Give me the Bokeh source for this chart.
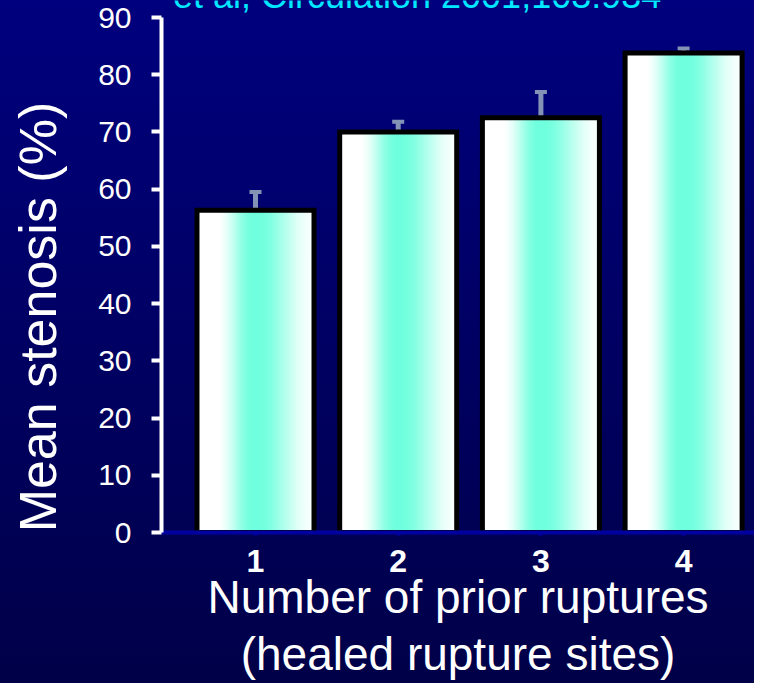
import numpy as np
from bokeh.plotting import figure
from bokeh.models import Range1d, FixedTicker, ColumnDataSource, Whisker, TeeHead, Label
from bokeh.embed import file_html
from bokeh.resources import INLINE

# ---- data ----
categories = ["1", "2", "3", "4"]
mean_stenosis = [56.3, 70.0, 72.5, 83.8]
error_up = [3.2, 1.8, 4.5, 0.8]
y_ticks = [0, 10, 20, 30, 40, 50, 60, 70, 80, 90]
citation = "Burke AP et al, Circulation 2001;103:934"
x_title = "Number of prior ruptures\n(healed rupture sites)"
y_title = "Mean stenosis (%)"

x_pos = list(range(1, len(categories) + 1))
upper = [m + e for m, e in zip(mean_stenosis, error_up)]

# ---- layout / style constants ----
W, H = 754, 683
LEFT, BOTTOM = 161, 151
FRAME_H = H - BOTTOM            # frame spans canvas 0 .. 532
TOP_PAD = 17                    # px between canvas top and the "90" tick
PX_PER_UNIT = (FRAME_H - TOP_PAD) / 90.0
Y_TOP = 90 + TOP_PAD / PX_PER_UNIT
PX_PER_CAT = 142.7
X_START = 1 - 94 / PX_PER_CAT
X_END = X_START + (W - LEFT) / PX_PER_CAT
BAR_W = 0.82
FONT = "Liberation Sans"

p = figure(width=W, height=H, output_backend="svg", toolbar_location=None,
           x_range=Range1d(X_START, X_END), y_range=Range1d(0, Y_TOP),
           min_border_left=LEFT, min_border_right=0, min_border_top=0,
           min_border_bottom=BOTTOM,
           styles={"background": "linear-gradient(to bottom, #00007e, #000048)"})
p.background_fill_alpha = 0
p.border_fill_alpha = 0
p.outline_line_color = None
p.grid.visible = False

# horizontal white -> aquamarine -> white gradient used as bar fill (style only)
N = 240
t = np.linspace(0, 1, N)
def smooth(u):
    u = np.clip(u, 0, 1)
    return u * u * (3 - 2 * u)
s = np.where(t < 0.5, smooth((t - 0.17) / (0.48 - 0.17)),
             1 - 0.94 * smooth((t - 0.52) / (0.98 - 0.52)))
aqua = np.array([112, 255, 222])
white = np.array([255, 255, 255])
rgb = (white[None, :] * (1 - s[:, None]) + aqua[None, :] * s[:, None]).astype(np.uint8)
img = np.empty((1, N), dtype=np.uint32)
view = img.view(dtype=np.uint8).reshape((1, N, 4))
view[0, :, 0:3] = rgb
view[0, :, 3] = 255

img_src = ColumnDataSource(dict(
    image=[img] * len(x_pos),
    x=[xp - BAR_W / 2 for xp in x_pos],
    y=[0] * len(x_pos),
    dw=[BAR_W] * len(x_pos),
    dh=mean_stenosis,
))
p.image_rgba(image="image", x="x", y="y", dw="dw", dh="dh", source=img_src)

p.vbar(x=x_pos, top=mean_stenosis, width=BAR_W, fill_alpha=0,
       line_color="black", line_width=5, line_join="miter")

err_src = ColumnDataSource(dict(base=x_pos, lower=mean_stenosis, upper=upper))
p.add_layout(Whisker(base="base", lower="lower", upper="upper", source=err_src,
                     line_color="#8393b6", line_width=5,
                     upper_head=TeeHead(size=12, line_color="#8393b6", line_width=4),
                     lower_head=None))

# ---- axes ----
xa = p.xaxis[0]
xa.ticker = FixedTicker(ticks=x_pos)
xa.major_label_overrides = {xp: c for xp, c in zip(x_pos, categories)}
xa.axis_line_color = "#0000a0"
xa.axis_line_width = 4
xa.major_tick_line_color = "#0000a0"
xa.major_tick_line_width = 4
xa.major_tick_out = 3
xa.major_tick_in = 0
xa.minor_tick_line_color = None
xa.major_label_text_color = "white"
xa.major_label_text_font = FONT
xa.major_label_text_font_style = "bold"
xa.major_label_text_font_size = "32px"
xa.major_label_standoff = 14
xa.axis_label = x_title
xa.axis_label_text_color = "white"
xa.axis_label_text_font = FONT
xa.axis_label_text_font_style = "normal"
xa.axis_label_text_font_size = "46px"
xa.axis_label_text_line_height = 1.1
xa.axis_label_standoff = -4

ya = p.yaxis[0]
ya.ticker = FixedTicker(ticks=y_ticks)
ya.bounds = (0, 90)
ya.axis_line_color = "white"
ya.axis_line_width = 4
ya.major_tick_line_color = "white"
ya.major_tick_line_width = 4
ya.major_tick_out = 10
ya.major_tick_in = 0
ya.minor_tick_line_color = None
ya.major_label_text_color = "white"
ya.major_label_text_font = FONT
ya.major_label_text_font_size = "30px"
ya.major_label_standoff = 20
ya.axis_label = y_title + "\u00a0" * 7
ya.axis_label_text_color = "white"
ya.axis_label_text_font = FONT
ya.axis_label_text_font_style = "normal"
ya.axis_label_text_font_size = "52px"
ya.axis_label_standoff = 28

# citation line, mostly cut off at the top edge as in the reference
p.add_layout(Label(x=X_START, y=Y_TOP + 5 / PX_PER_UNIT, x_offset=-148, text=citation,
                   text_color="#00e8ff", text_font=FONT, text_font_size="36px",
                   text_baseline="alphabetic"))

open("out.html", "w").write(file_html(p, INLINE))
